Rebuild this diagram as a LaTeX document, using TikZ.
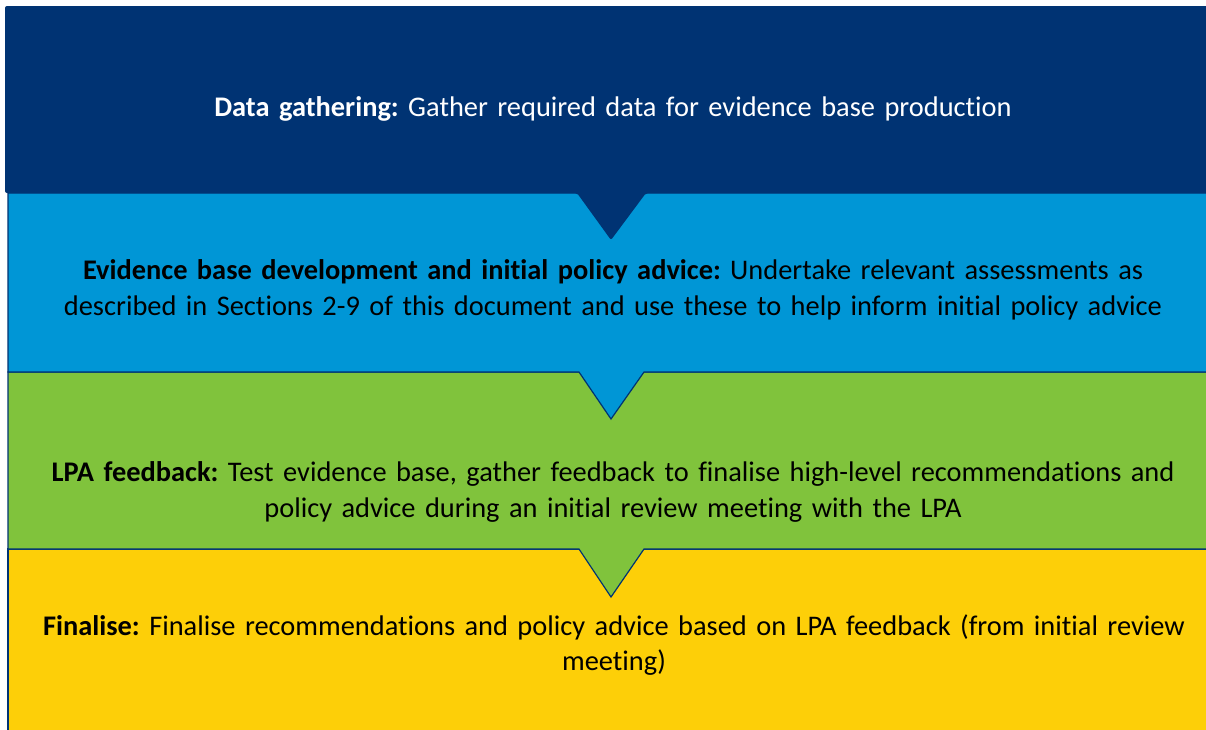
\documentclass[tikz,border=0pt]{standalone}
\usepackage{fontspec}
\setmainfont[Ligatures=NoCommon]{Carlito}
\definecolor{stepnavy}{RGB}{0,51,115}
\definecolor{stepblue}{RGB}{0,150,214}
\definecolor{stepgreen}{RGB}{128,195,60}
\definecolor{stepyellow}{RGB}{253,207,8}
\tikzset{
    band/.style = {
        draw=stepnavy,
        line width=0.6pt
    },
    steptext/.style = {
        align=center,
        inner sep=0pt,
        text width=590pt,
        font=\fontsize{14.2}{17.8}\selectfont\frenchspacing
    }
}

\begin{document}
\begin{tikzpicture}[x=0.5pt, y=-0.5pt]
    \useasboundingbox[fill=white] (0,0) rectangle (1206,729);
    % bands, bottom one first so every chevron lies over the next band
    \filldraw[band, fill=stepyellow] (8,549) -- (1212,549) -- (1212,735) -- (8,735) -- cycle;
    \filldraw[band, fill=stepgreen] (8,372) -- (1212,372) -- (1212,549) -- (644,549)
        -- (611,597) -- (579,549) -- (8,549) -- cycle;
    \filldraw[band, fill=stepblue] (8,193) -- (1212,193) -- (1212,372) -- (644,372)
        -- (611,419) -- (579,372) -- (8,372) -- cycle;
    \fill[stepnavy, rounded corners=1pt] (5,6) -- (1212,6) -- (1212,193) -- (646,193)
        -- (611,240) -- (577,193) -- (5,193) -- cycle;

    % step texts
    \node[steptext, text=white] (gather) at (613,109)
        {\textbf{Data gathering:} Gather required data for evidence base production};
    \node[steptext] (evidence) at (613,290)
        {\textbf{Evidence base development and initial policy advice:} Undertake relevant assessments as\\
         described in Sections 2-9 of this document and use these to help inform initial policy advice};
    \node[steptext] (feedback) at (613,492)
        {\textbf{LPA feedback:} Test evidence base, gather feedback to finalise high-level recommendations and\\
         policy advice during an initial review meeting with the LPA};
    \node[steptext] (finalise) at (614,645)
        {\textbf{Finalise:} Finalise recommendations and policy advice based on LPA feedback (from initial review\\
         meeting)};
\end{tikzpicture}
\end{document}
